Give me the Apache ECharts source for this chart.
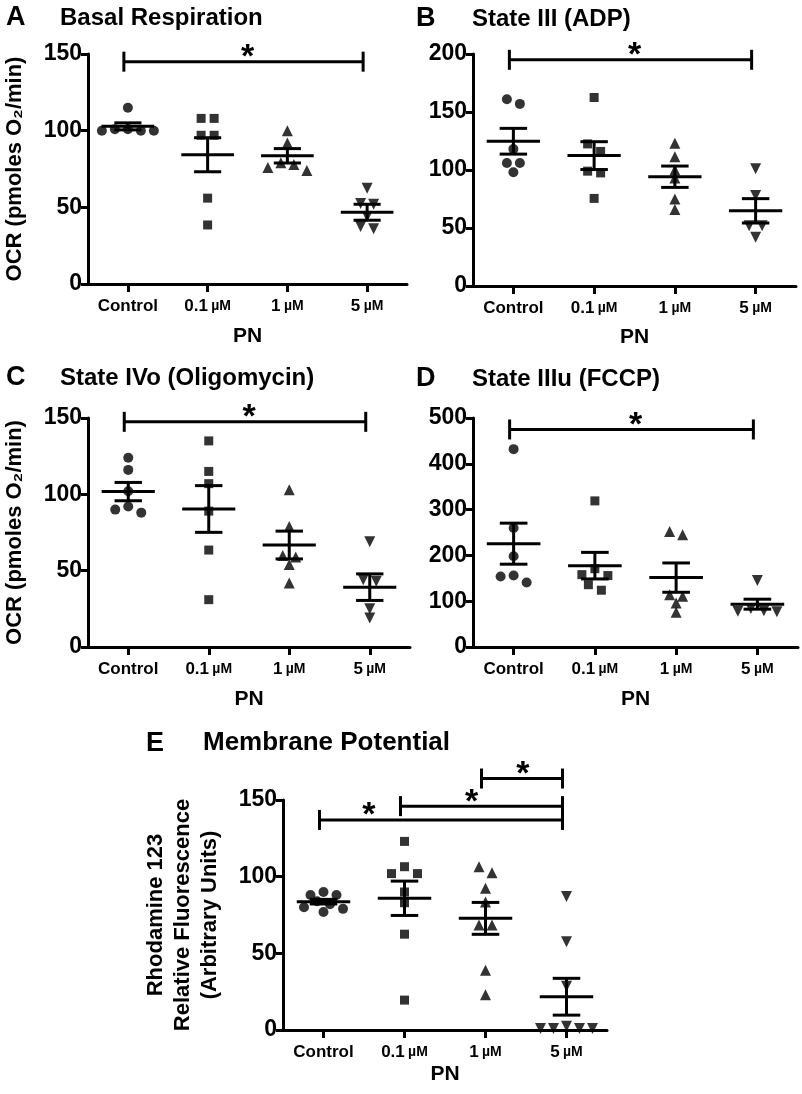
<!DOCTYPE html>
<html><head><meta charset="utf-8">
<script src="https://cdn.jsdelivr.net/npm/echarts@6/dist/echarts.min.js"></script>
<style>html,body{margin:0;padding:0;background:#fff}#c{width:802px;height:1094px}</style>
</head><body><div id="c"></div>
<script>
// ---------- DATA ----------
const categories = ['Control', '0.1 µM', '1 µM', '5 µM'];
const xAxisTitle = 'PN';

// A: Basal Respiration
const basalControl = [115, 101, 100, 100, 100, 101];
const basalPN01 = [108, 108, 97, 97, 56, 38.5];
const basalPN1 = [100, 92, 79, 78, 76, 74];
const basalPN5 = [62.5, 52.5, 52, 44, 37.5, 36];
const basalMean = [102.8, 84.3, 83.6, 46.8];
const basalSem = [2.3, 11.1, 4.7, 5.2];
const basalBrackets = [[0, 3, 145, 1.5]]; // [from, to, level, star x]

// B: State III (ADP)
const adpControl = [161, 157, 118, 106, 106, 98];
const adpPN01 = [162.5, 122.5, 116, 99, 97.5, 75.5];
const adpPN1 = [123, 111.5, 100, 93, 75, 66];
const adpPN5 = [101, 78, 52, 52, 42];
const adpMean = [124.8, 112.4, 94.2, 64.8];
const adpSem = [11.1, 12, 9.2, 10.5];
const adpBrackets = [[0, 3, 195, 1.5]];

// C: State IVo (Oligomycin)
const oligoControl = [124, 116, 102, 92, 88, 90];
const oligoPN01 = [135, 115, 107, 89, 63.5, 31];
const oligoPN1 = [103, 79, 60, 59, 54, 42];
const oligoPN5 = [69, 44, 43, 25, 19];
const oligoMean = [101.8, 90.4, 66.8, 39.2];
const oligoSem = [6, 15.3, 9.1, 8.7];
const oligoBrackets = [[0, 3, 147.5, 1.5]];

// D: State IIIu (FCCP)
const fccpControl = [432, 260, 198, 156, 154, 141];
const fccpPN01 = [319, 171, 158, 156, 136, 124];
const fccpPN1 = [252, 245, 114, 111, 96, 76];
const fccpPN5 = [145, 84, 78, 79, 77];
const fccpMean = [225.6, 177.6, 151.5, 93.5];
const fccpSem = [44.8, 29, 32, 10.9];
const fccpBrackets = [[0, 3, 475, 1.5]];

// E: Membrane Potential
const rhoControl = [90, 88, 88, 84, 82, 80, 79, 77];
const rhoPN01 = [123, 106.5, 102, 102, 90, 83, 62.5, 19.5];
const rhoPN1 = [106.5, 102.5, 92.5, 83.5, 68.5, 68.5, 39, 23];
const rhoPN5 = [87, 57.5, 28.5, 2.5, 1, 1, 1, 1];
const rhoMean = [83.7, 85.9, 72.8, 21.7];
const rhoSem = [1.5, 11.2, 10.4, 12];
const rhoBrackets = [[0, 3, 137, 0.56], [1, 3, 146, 1.83], [2, 3, 164, 2.46]];

// ---------- STYLE / LAYOUT ----------
const FONT = '"Liberation Sans", Arial, Helvetica, sans-serif';
const panels = [
  { letter: 'A', title: 'Basal Respiration', groups: [basalControl, basalPN01, basalPN1, basalPN5], mean: basalMean, sem: basalSem, brackets: basalBrackets,
    yMax: 150, yStep: 50, yName: 'OCR (pmoles O₂/min)', grid: { left: 88, top: 54, width: 319, height: 230 },
    letterPos: [6, 4], titlePos: [60, 6], titleSize: 24, nameGap: 42, labelMargin: 14 },
  { letter: 'B', title: 'State III (ADP)', groups: [adpControl, adpPN01, adpPN1, adpPN5], mean: adpMean, sem: adpSem, brackets: adpBrackets,
    yMax: 200, yStep: 50, yName: '', grid: { left: 473, top: 54, width: 323, height: 232 },
    letterPos: [416, 5], titlePos: [472, 7], titleSize: 24, nameGap: 41, labelMargin: 14 },
  { letter: 'C', title: 'State IVo (Oligomycin)', groups: [oligoControl, oligoPN01, oligoPN1, oligoPN5], mean: oligoMean, sem: oligoSem, brackets: oligoBrackets,
    yMax: 150, yStep: 50, yName: 'OCR (pmoles O₂/min)', grid: { left: 88, top: 418, width: 322, height: 229 },
    letterPos: [6, 364], titlePos: [60, 366], titleSize: 24, nameGap: 42, labelMargin: 14 },
  { letter: 'D', title: 'State IIIu (FCCP)', groups: [fccpControl, fccpPN01, fccpPN1, fccpPN5], mean: fccpMean, sem: fccpSem, brackets: fccpBrackets,
    yMax: 500, yStep: 100, yName: '', grid: { left: 473, top: 418, width: 325, height: 229 },
    letterPos: [416, 365], titlePos: [472, 367], titleSize: 24, nameGap: 42, labelMargin: 14 },
  { letter: 'E', title: 'Membrane Potential', groups: [rhoControl, rhoPN01, rhoPN1, rhoPN5], mean: rhoMean, sem: rhoSem, brackets: rhoBrackets,
    yMax: 150, yStep: 50, yName: 'Rhodamine 123\nRelative Fluorescence\n(Arbitrary Units)', grid: { left: 283, top: 800, width: 324, height: 230 },
    letterPos: [146, 730], titlePos: [203, 730], titleSize: 26, nameGap: 34, labelMargin: 14 }
];
const symbols = [
  { symbol: 'circle', size: 10, rotate: 0 },
  { symbol: 'rect', size: 9, rotate: 0 },
  { symbol: 'triangle', size: 11, rotate: 0 },
  { symbol: 'triangle', size: 11, rotate: 180 }
];

// spread overlapping points sideways (column scatter layout)
function spread(values, idx, pxPerUnit, bandPx, symPx, stepPx) {
  const order = values.map((v, i) => i).sort((a, b) => values[b] - values[a]);
  const out = new Array(values.length);
  let cluster = [];
  const flush = () => {
    const n = cluster.length;
    const offs = [];
    for (let j = 0; j < n; j++) offs.push(j - (n - 1) / 2);
    offs.sort((a, b) => Math.abs(a) - Math.abs(b) || a - b);
    cluster.forEach((k, j) => { out[k] = [idx + offs[j] * stepPx / bandPx, values[k]]; });
    cluster = [];
  };
  order.forEach(k => {
    if (cluster.length && (values[cluster[0]] - values[k]) * pxPerUnit >= symPx) flush();
    cluster.push(k);
  });
  flush();
  return out;
}

function renderMeanSem(params, api) {
  const x = api.value(0), m = api.value(1), s = api.value(2);
  const c = api.coord([x, m]);
  const top = api.coord([x, m + s]);
  const bot = api.coord([x, m - s]);
  const bw = api.size([1, 0])[0];
  const half = bw * 0.33, cap = bw * 0.17;
  const style = { stroke: '#000', lineWidth: 3 };
  return { type: 'group', children: [
    { type: 'line', shape: { x1: c[0] - half, y1: c[1], x2: c[0] + half, y2: c[1] }, style },
    { type: 'line', shape: { x1: c[0], y1: top[1], x2: c[0], y2: bot[1] }, style },
    { type: 'line', shape: { x1: c[0] - cap, y1: top[1], x2: c[0] + cap, y2: top[1] }, style },
    { type: 'line', shape: { x1: c[0] - cap, y1: bot[1], x2: c[0] + cap, y2: bot[1] }, style }
  ] };
}

function renderBracket(params, api) {
  const a = api.coord([api.value(0), api.value(2)]);
  const b = api.coord([api.value(1), api.value(2)]);
  const s = api.coord([api.value(3), api.value(2)]);
  const style = { stroke: '#000', lineWidth: 3 };
  return { type: 'group', children: [
    { type: 'line', shape: { x1: a[0] - 4, y1: a[1], x2: b[0] - 4, y2: b[1] }, style },
    { type: 'line', shape: { x1: a[0] - 4, y1: a[1] - 10, x2: a[0] - 4, y2: a[1] + 10 }, style },
    { type: 'line', shape: { x1: b[0] - 4, y1: b[1] - 10, x2: b[0] - 4, y2: b[1] + 10 }, style },
    { type: 'text', x: s[0], y: s[1] - 4, style: { text: '*', fontSize: 34, fontWeight: 'bold', fontFamily: FONT, fill: '#000', align: 'center', verticalAlign: 'middle' } }
  ] };
}

const grids = [], xAxes = [], yAxes = [], series = [], titles = [];
panels.forEach((p, i) => {
  grids.push(Object.assign({ containLabel: false }, p.grid));
  const band = p.grid.width / categories.length;
  const pxPerUnit = p.grid.height / p.yMax;
  xAxes.push({
    type: 'category', gridIndex: i, data: categories, boundaryGap: true,
    axisLine: { show: true, onZero: false, lineStyle: { color: '#000', width: 3 } },
    axisTick: { show: true, alignWithLabel: true, length: 8, lineStyle: { color: '#000', width: 3 } },
    axisLabel: {
      margin: p.labelMargin, interval: 0, color: '#000',
      formatter: v => { const parts = v.split(' '); return parts.length > 1 ? '{b|' + parts[0] + '} {u|' + parts[1] + '}' : '{b|' + v + '}'; },
      rich: { b: { fontSize: 17, fontWeight: 'bold', fontFamily: FONT, color: '#000' }, u: { fontSize: 14, fontWeight: 'bold', fontFamily: FONT, color: '#000' } }
    },
    name: xAxisTitle, nameLocation: 'middle', nameGap: p.nameGap,
    nameTextStyle: { fontSize: 21, fontWeight: 'bold', fontFamily: FONT, color: '#000' }
  });
  xAxes.push({ type: 'value', gridIndex: i, min: -0.5, max: 3.5, show: false });
  yAxes.push({
    type: 'value', gridIndex: i, min: 0, max: p.yMax, interval: p.yStep,
    axisLine: { show: true, onZero: false, lineStyle: { color: '#000', width: 3 } },
    axisTick: { show: true, length: 7, lineStyle: { color: '#000', width: 3 } },
    splitLine: { show: false },
    axisLabel: { margin: 6, fontSize: 23, fontWeight: 'bold', fontFamily: FONT, color: '#000' },
    name: p.yName, nameLocation: 'middle', nameGap: 60,
    nameTextStyle: { fontSize: 22, fontWeight: 'bold', fontFamily: FONT, color: '#000', lineHeight: 27 }
  });
  p.groups.forEach((vals, g) => {
    series.push({
      type: 'scatter', xAxisIndex: 2 * i + 1, yAxisIndex: i,
      symbol: symbols[g].symbol, symbolSize: symbols[g].size, symbolRotate: symbols[g].rotate,
      itemStyle: { color: '#000' }, silent: true, animation: false,
      data: spread(vals, g, pxPerUnit, band, 8, 13)
    });
  });
  series.push({
    type: 'custom', xAxisIndex: 2 * i + 1, yAxisIndex: i, renderItem: renderMeanSem, animation: false, silent: true,
    encode: { x: 0, y: 1 },
    data: p.mean.map((m, g) => [g, m, p.sem[g]])
  });
  series.push({
    type: 'custom', xAxisIndex: 2 * i + 1, yAxisIndex: i, renderItem: renderBracket, animation: false, silent: true, clip: false,
    encode: { x: 0, y: 2 },
    data: p.brackets
  });
  titles.push({ text: p.letter, left: p.letterPos[0], top: p.letterPos[1], padding: 0,
    textStyle: { fontSize: 27, fontWeight: 'bold', fontFamily: FONT, color: '#000' } });
  titles.push({ text: p.title, left: p.titlePos[0], top: p.titlePos[1], padding: 0,
    textStyle: { fontSize: p.titleSize, fontWeight: 'bold', fontFamily: FONT, color: '#000' } });
});

const chart = echarts.init(document.getElementById('c'), null, { renderer: 'canvas' });
chart.setOption({
  backgroundColor: '#fff', animation: false,
  title: titles, grid: grids, xAxis: xAxes, yAxis: yAxes, series: series
});
</script></body></html>
